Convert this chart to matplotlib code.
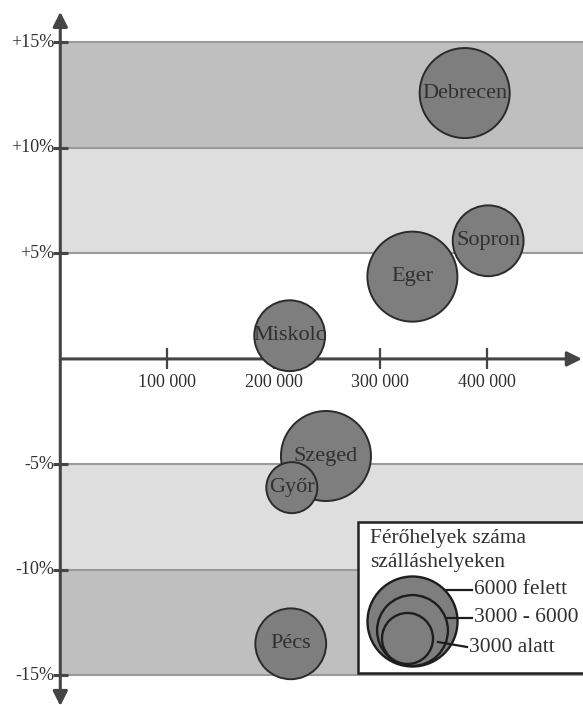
import matplotlib.pyplot as plt
from matplotlib.patches import Rectangle

plt.rcParams['font.family'] = ['Liberation Serif', 'DejaVu Serif']

# vendégéjszakák száma és változása városonként
cities = ['Debrecen', 'Sopron', 'Eger', 'Miskolc', 'Szeged', 'Győr', 'Pécs']
nights = [379000, 401000, 330000, 215000, 249000, 217000, 216000]
change = [12.6, 5.6, 3.9, 1.1, -4.6, -6.1, -13.5]
capacity = ['6000 felett', '3000 - 6000', '6000 felett', '3000 - 6000',
            '6000 felett', '3000 alatt', '3000 - 6000']

size_classes = ['6000 felett', '3000 - 6000', '3000 alatt']
legend_title = ['Férőhelyek száma', 'szálláshelyeken']
xticks = [100000, 200000, 300000, 400000]
xtick_labels = ['100 000', '200 000', '300 000', '400 000']
yticks = [15, 10, 5, -5, -10, -15]
ytick_labels = ['+15%', '+10%', '+5%', '-5%', '-10%', '-15%']

marker_area = {'6000 felett': 4200, '3000 - 6000': 2600, '3000 alatt': 1350}
bubble = '#7e7e7e'
edge = '#2b2b2b'
axis_col = '#454545'
text_col = '#303030'

fig = plt.figure(figsize=(5.83, 7.05), dpi=100)
ax = fig.add_axes([0, 0, 1, 1])
ax.set_xlim(-56500, 489900)
ax.set_ylim(-16.40, 17.01)
ax.axis('off')

# sávok
xr = 500000
ax.fill_between([0, xr], 10, 15, color='#bfbfbf', lw=0, zorder=0)
ax.fill_between([0, xr], 5, 10, color='#dedede', lw=0, zorder=0)
ax.fill_between([0, xr], -10, -5, color='#dedede', lw=0, zorder=0)
ax.fill_between([0, xr], -15, -10, color='#bfbfbf', lw=0, zorder=0)
ax.hlines(yticks, 0, xr, color='#9a9a9a', lw=1.5, zorder=1)

# tengelyek nyíllal
ax.annotate('', xy=(488900, 0), xytext=(0, 0),
            arrowprops=dict(arrowstyle='-|>', lw=2.2, color=axis_col,
                            mutation_scale=22, shrinkA=0, shrinkB=0), zorder=2)
ax.annotate('', xy=(0, 16.45), xytext=(0, -16.45),
            arrowprops=dict(arrowstyle='<|-|>', lw=2.2, color=axis_col,
                            mutation_scale=22, shrinkA=0, shrinkB=0), zorder=2)

ax.vlines(xticks, -0.5, 0.5, color=axis_col, lw=1.6, zorder=2)
ax.hlines(yticks, -7000, 7200, color=axis_col, lw=2.2, zorder=2)
for x, lab in zip(xticks, xtick_labels):
    ax.text(x, -1.1, lab, ha='center', va='center', fontsize=13, color=text_col)
for y, lab in zip(yticks, ytick_labels):
    ax.text(-5600, y, lab, ha='right', va='center', fontsize=13, color=text_col)

# buborékok
ax.scatter(nights, change, s=[marker_area[c] for c in capacity], c=bubble,
           edgecolors=edge, linewidths=1.4, zorder=3)
for x, y, name in zip(nights, change, cities):
    ax.text(x, y, name, ha='center', va='center', fontsize=16,
            color=text_col, zorder=4)

# jelmagyarázat (pixel koordinátákban)
lg = fig.add_axes([0, 0, 1, 1], zorder=5)
lg.set_xlim(0, 583)
lg.set_ylim(705, 0)
lg.axis('off')
lg.patch.set_visible(False)
lg.add_patch(Rectangle((358, 522), 240, 151, fc='white', ec='#222222', lw=1.8))
lg.text(370, 539, legend_title[0], ha='left', va='center', fontsize=15.5, color=text_col)
lg.text(370, 563, legend_title[1], ha='left', va='center', fontsize=15.5, color=text_col)

centers = [(412, 621), (412, 630), (407, 638)]
leader = [((445, 590), (472, 590)), ((447, 618), (472, 618)), ((438, 642), (467, 647))]
for cls, (cx, cy), ((x0, y0), (x1, y1)) in zip(size_classes, centers, leader):
    lg.scatter([cx], [cy], s=marker_area[cls], c=bubble, edgecolors='#1e1e1e',
               linewidths=1.7)
    lg.plot([x0, x1], [y0, y1], color='#1e1e1e', lw=1.6)
    lg.text(x1 + 2, y1, cls, ha='left', va='center', fontsize=15.5, color=text_col)

fig.savefig('out.png', dpi=100, facecolor='white')
